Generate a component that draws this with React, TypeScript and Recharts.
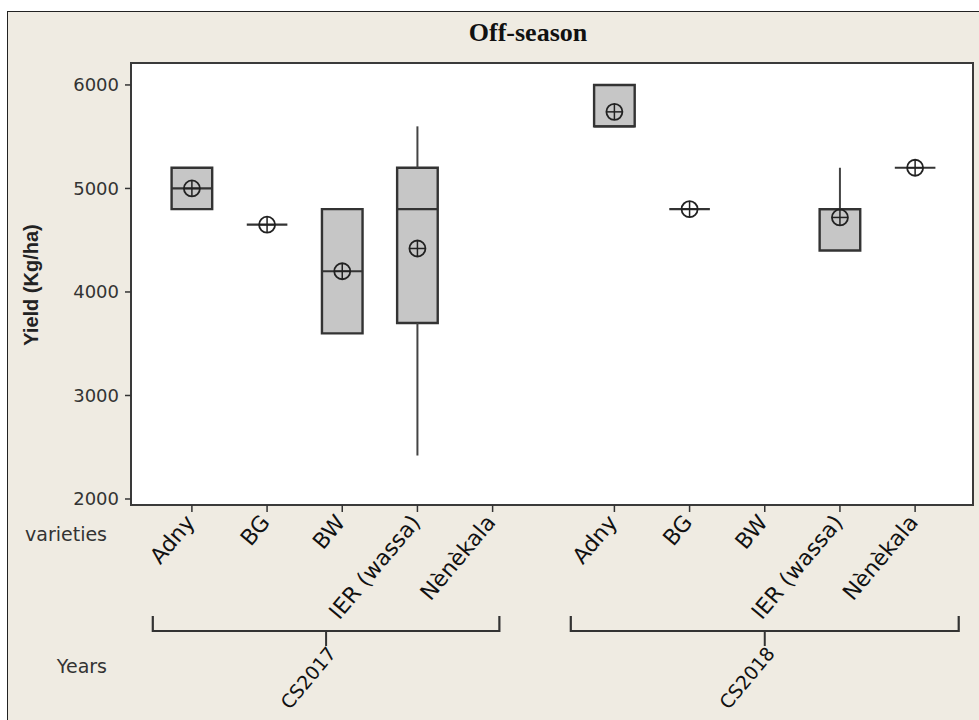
import React from 'react';
import { ComposedChart, XAxis, YAxis, Scatter, ReferenceArea, ReferenceLine } from 'recharts';

// ---------- data ----------
const years = ['CS2017', 'CS2018'];
const varieties = ['Adny', 'BG', 'BW', 'IER (wassa)', 'Nènèkala'];
// order: CS2017 (5 varieties), then CS2018 (5 varieties)
const q1Values = [4800, 4650, 3600, 3700, null, 5600, 4800, null, 4400, 5200];
const medianValues = [5000, 4650, 4200, 4800, null, 5600, 4800, null, 4800, 5200];
const q3Values = [5200, 4650, 4800, 5200, null, 6000, 4800, null, 4800, 5200];
const whiskerLow = [4800, 4650, 3600, 2420, null, 5600, 4800, null, 4400, 5200];
const whiskerHigh = [5200, 4650, 4800, 5600, null, 6000, 4800, null, 5200, 5200];
const meanValues = [5000, 4650, 4200, 4420, null, 5740, 4800, null, 4720, 5200];
const yTicks = [2000, 3000, 4000, 5000, 6000];

// ---------- layout ----------
const W = 979;
const H = 720;
const MARGIN = { top: 63, right: 6, left: 0, bottom: 0 };
const Y_AXIS_W = 131;
const X_AXIS_H = 215;
const GROUP_STEP = 5.62;
const X_DOMAIN: [number, number] = [0.19, 11.39];
const Y_DOMAIN: [number, number] = [1942, 6212];
const BOX_HALF = 0.27;
const PX_PER_UNIT = (W - MARGIN.right - Y_AXIS_W) / (X_DOMAIN[1] - X_DOMAIN[0]);
const BRACKETS: [number, number][] = [
  [0.48, 5.09],
  [6.04, 11.2],
];

const FONT = "'DejaVu Sans', Verdana, sans-serif";

type Item = {
  x: number;
  year: string;
  variety: string;
  q1: number | null;
  med: number | null;
  q3: number | null;
  lo: number | null;
  hi: number | null;
  mean: number | null;
};

const items: Item[] = [];
years.forEach((yr, g) => {
  varieties.forEach((v, i) => {
    const k = g * varieties.length + i;
    items.push({
      x: 1 + i + g * GROUP_STEP,
      year: yr,
      variety: v,
      q1: q1Values[k],
      med: medianValues[k],
      q3: q3Values[k],
      lo: whiskerLow[k],
      hi: whiskerHigh[k],
      mean: meanValues[k],
    });
  });
});

const xTicks = items.map((d) => d.x);
const meanData = items.filter((d) => d.mean != null).map((d) => ({ x: d.x, y: d.mean }));

const VarietyTick = (props: any) => {
  const { x, y, index } = props;
  const item = items[index];
  if (!item) return null;
  const ax = x + 4;
  const ay = y + 11;
  let bracket: React.ReactNode = null;
  if (index % varieties.length === 0) {
    const g = Math.floor(index / varieties.length);
    const span = BRACKETS[g];
    const left = x + (span[0] - item.x) * PX_PER_UNIT;
    const right = x + (span[1] - item.x) * PX_PER_UNIT;
    const cx = (left + right) / 2;
    const by = y + 119;
    const top = by - 15;
    const lx = cx + 11;
    const ly = by + 23;
    bracket = (
      <g>
        <path
          d={`M${left},${top} L${left},${by} L${right},${by} L${right},${top}`}
          fill="none"
          stroke="#333"
          strokeWidth={2.2}
        />
        <line x1={cx} y1={by} x2={cx} y2={by + 15} stroke="#333" strokeWidth={2} />
        <text
          x={lx}
          y={ly}
          transform={`rotate(-50, ${lx}, ${ly})`}
          textAnchor="end"
          fontSize={19}
          fontFamily={FONT}
          fill="#111"
        >
          {years[g]}
        </text>
      </g>
    );
  }
  return (
    <g>
      {bracket}
      <text
        x={ax}
        y={ay}
        transform={`rotate(-50, ${ax}, ${ay})`}
        textAnchor="end"
        fontSize={22}
        fontFamily={FONT}
        fill="#111"
      >
        {item.variety}
      </text>
    </g>
  );
};

const MeanShape = (props: any) => {
  const { cx, cy } = props;
  if (cx == null || cy == null) return null;
  const r = 8;
  return (
    <g>
      <circle cx={cx} cy={cy} r={r} fill="none" stroke="#222" strokeWidth={1.8} />
      <line x1={cx - r} y1={cy} x2={cx + r} y2={cy} stroke="#222" strokeWidth={1.5} />
      <line x1={cx} y1={cy - r} x2={cx} y2={cy + r} stroke="#222" strokeWidth={1.5} />
    </g>
  );
};

export default function App() {
  return (
    <div style={{ position: 'absolute', left: 0, top: 0, width: W, height: H, background: '#ffffff', overflow: 'hidden' }}>
      <div
        style={{
          position: 'absolute',
          left: 7,
          top: 11,
          width: W - 7,
          height: H - 11,
          background: '#EFEBE2',
          borderLeft: '1.5px solid #222',
          borderTop: '1.5px solid #222',
          boxSizing: 'border-box',
        }}
      />
      <div style={{ position: 'absolute', left: 0, top: 0 }}>
        <ComposedChart width={W} height={H} margin={MARGIN}>
          <XAxis
            dataKey="x"
            type="number"
            domain={X_DOMAIN}
            allowDataOverflow
            ticks={xTicks}
            interval={0}
            height={X_AXIS_H}
            axisLine={false}
            tickLine={{ stroke: '#333', strokeWidth: 1.5 }}
            tickSize={7}
            tickMargin={0}
            tick={<VarietyTick />}
          />
          <YAxis
            type="number"
            domain={Y_DOMAIN}
            allowDataOverflow
            ticks={yTicks}
            interval={0}
            width={Y_AXIS_W}
            axisLine={false}
            tickLine={{ stroke: '#333', strokeWidth: 1.5 }}
            tickSize={6}
            tickMargin={6}
            tick={{ fontSize: 18, fontFamily: FONT, fill: '#333' }}
          />
          <ReferenceArea
            x1={X_DOMAIN[0]}
            x2={X_DOMAIN[1]}
            y1={Y_DOMAIN[0]}
            y2={Y_DOMAIN[1]}
            fill="#ffffff"
            fillOpacity={1}
            stroke="#3a3a3a"
            strokeWidth={2}
          />
          {items
            .filter((d) => d.lo != null && d.q1 != null && (d.lo as number) < (d.q1 as number))
            .map((d) => (
              <ReferenceLine
                key={`wl-${d.x}`}
                segment={[
                  { x: d.x, y: d.lo as number },
                  { x: d.x, y: d.q1 as number },
                ]}
                stroke="#444"
                strokeWidth={2}
              />
            ))}
          {items
            .filter((d) => d.hi != null && d.q3 != null && (d.hi as number) > (d.q3 as number))
            .map((d) => (
              <ReferenceLine
                key={`wh-${d.x}`}
                segment={[
                  { x: d.x, y: d.q3 as number },
                  { x: d.x, y: d.hi as number },
                ]}
                stroke="#444"
                strokeWidth={2}
              />
            ))}
          {items
            .filter((d) => d.q1 != null && d.q3 != null && (d.q3 as number) > (d.q1 as number))
            .map((d) => (
              <ReferenceArea
                key={`box-${d.x}`}
                x1={d.x - BOX_HALF}
                x2={d.x + BOX_HALF}
                y1={d.q1 as number}
                y2={d.q3 as number}
                fill="#C6C6C6"
                fillOpacity={1}
                stroke="#333"
                strokeWidth={2.4}
              />
            ))}
          {items
            .filter((d) => d.med != null)
            .map((d) => (
              <ReferenceLine
                key={`med-${d.x}`}
                segment={[
                  { x: d.x - BOX_HALF, y: d.med as number },
                  { x: d.x + BOX_HALF, y: d.med as number },
                ]}
                stroke="#333"
                strokeWidth={2.2}
              />
            ))}
          <Scatter data={meanData} dataKey="y" shape={<MeanShape />} isAnimationActive={false} legendType="none" />
        </ComposedChart>
      </div>
      <svg width={W} height={H} style={{ position: 'absolute', left: 0, top: 0, pointerEvents: 'none' }}>
        <text x={528} y={41} textAnchor="middle" fontFamily="'Liberation Serif', 'Times New Roman', serif" fontWeight="bold" fontSize={26} fill="#111">
          Off-season
        </text>
        <text
          x={38}
          y={285}
          transform="rotate(-90, 38, 285)"
          textAnchor="middle"
          fontFamily="'Liberation Sans', Arial, sans-serif"
          fontWeight="bold"
          fontSize={20}
          fill="#222"
        >
          Yield (Kg/ha)
        </text>
        <text x={107} y={541} textAnchor="end" fontFamily={FONT} fontSize={19} fill="#333">
          varieties
        </text>
        <text x={107} y={673} textAnchor="end" fontFamily={FONT} fontSize={19} fill="#333">
          Years
        </text>
      </svg>
    </div>
  );
}
